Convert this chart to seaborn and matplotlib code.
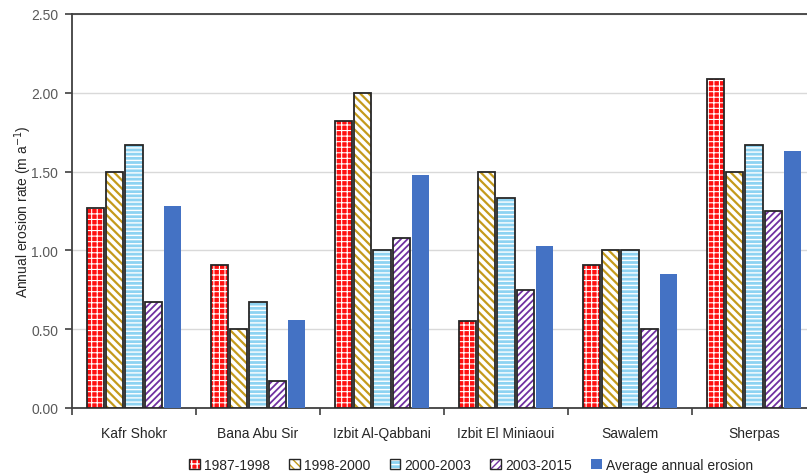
import matplotlib
matplotlib.use("Agg")
import matplotlib.pyplot as plt
import pandas as pd
import seaborn as sns
from matplotlib.patches import Patch, Rectangle
from matplotlib.ticker import FixedLocator, MultipleLocator, FormatStrFormatter

# ---- data -------------------------------------------------------------
sites = ["Kafr Shokr", "Bana Abu Sir", "Izbit Al-Qabbani",
         "Izbit El Miniaoui", "Sawalem", "Sherpas"]
periods = ["1987-1998", "1998-2000", "2000-2003", "2003-2015",
           "Average annual erosion"]

rate_1987_1998 = [1.27, 0.91, 1.82, 0.55, 0.91, 2.09]
rate_1998_2000 = [1.50, 0.50, 2.00, 1.50, 1.00, 1.50]
rate_2000_2003 = [1.67, 0.67, 1.00, 1.33, 1.00, 1.67]
rate_2003_2015 = [0.67, 0.17, 1.08, 0.75, 0.50, 1.25]
rate_average = [1.28, 0.56, 1.48, 1.03, 0.85, 1.63]

series = [rate_1987_1998, rate_1998_2000, rate_2000_2003,
          rate_2003_2015, rate_average]

df = pd.DataFrame({
    "site": [s for _ in periods for s in sites],
    "period": [p for p in periods for _ in sites],
    "rate": [v for vals in series for v in vals],
})

# fill colour, hatch pattern, hatch colour, hatch line width per period
styles = {
    "1987-1998": ("#FF1010", "+++", "white", 0.8),
    "1998-2000": ("white", "\\\\\\\\", "#C49A1C", 1.6),
    "2000-2003": ("#8ED3F2", "----", "white", 1.0),
    "2003-2015": ("white", "/////", "#7030A0", 1.3),
    "Average annual erosion": ("#4472C4", "", "#4472C4", 1.0),
}
outline = "#262626"


def apply_hatch(patch, hatch, color, lw):
    patch.set_hatch(hatch)
    patch.set_edgecolor(color)
    patch.set_linewidth(0)
    if hasattr(patch, "set_hatch_linewidth"):
        patch.set_hatch_linewidth(lw)
    else:
        patch._hatch_linewidth = lw


# ---- figure -----------------------------------------------------------
sns.set_theme(style="white")
plt.rcParams["font.family"] = ["Liberation Sans", "DejaVu Sans"]

W, H = 807, 477
fig = plt.figure(figsize=(W / 100, H / 100), dpi=100)
ax = fig.add_axes([72 / W, 68 / H, (816 - 72) / W, (409 - 15) / H])

sns.barplot(data=df, x="site", y="rate", hue="period", order=sites,
            hue_order=periods, palette=[styles[p][0] for p in periods],
            saturation=1, width=0.78, gap=0.12, linewidth=0,
            legend=False, ax=ax, zorder=3)

for period, cont in zip(periods, ax.containers):
    face, hatch, hcol, hlw = styles[period]
    for bar in cont:
        apply_hatch(bar, hatch, hcol, hlw)
        if period != "Average annual erosion":
            ax.add_patch(Rectangle(bar.get_xy(), bar.get_width(),
                                   bar.get_height(), fill=False,
                                   edgecolor=outline, linewidth=1.3,
                                   zorder=4))

# axes styling
ax.set_ylim(0, 2.5)
ax.set_xlim(-0.5, len(sites) - 0.5)
ax.yaxis.set_major_locator(MultipleLocator(0.5))
ax.yaxis.set_major_formatter(FormatStrFormatter("%.2f"))
ax.yaxis.grid(True, color="#D9D9D9", linewidth=1.0, zorder=0)
ax.set_axisbelow(True)

ax.xaxis.set_minor_locator(FixedLocator([i - 0.5 for i in range(len(sites) + 1)]))
ax.tick_params(axis="x", which="major", length=0, pad=13, labelsize=10,
               colors="#262626")
ax.tick_params(axis="x", which="minor", length=5, width=1.2,
               color="#404040", bottom=True)
ax.tick_params(axis="y", length=5, width=1.2, color="#404040", left=True,
               labelsize=10, labelcolor="#595959", pad=5)

for side in ["left", "bottom", "top", "right"]:
    ax.spines[side].set_color("#404040")
    ax.spines[side].set_linewidth(1.3)

ax.set_xlabel("")
ax.set_ylabel("Annual erosion rate (m a$^{-1}$)", fontsize=10,
              color="#262626", labelpad=-2)

# legend with outlined, patterned swatches
handles = []
for period in periods:
    face, hatch, hcol, hlw = styles[period]
    fill = Patch(facecolor=face)
    apply_hatch(fill, hatch, hcol, hlw)
    if period == "Average annual erosion":
        handles.append(fill)
    else:
        handles.append((fill, Patch(fill=False, edgecolor=outline,
                                    linewidth=1.0)))
fig.legend(handles, periods, loc="center", ncol=5, frameon=False,
           bbox_to_anchor=(471 / W, 11 / H), fontsize=10,
           handlelength=0.75, handleheight=0.75, handletextpad=0.3,
           columnspacing=1.4, labelcolor="#262626")

fig.savefig("out.png", dpi=100)
